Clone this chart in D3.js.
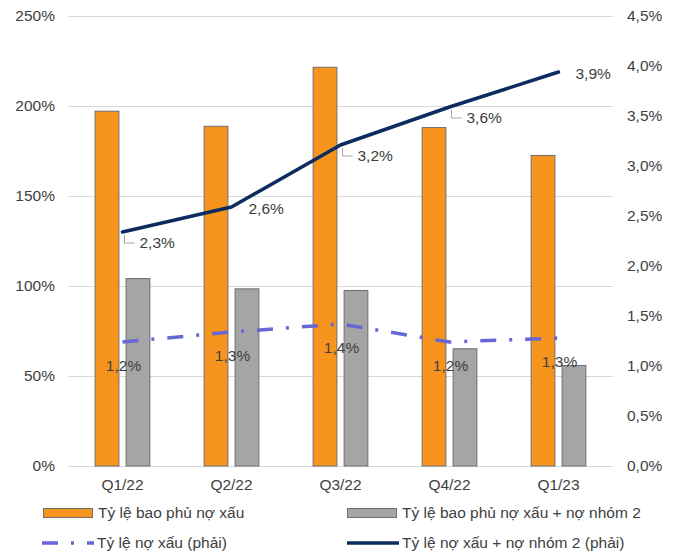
<!DOCTYPE html>
<html>
<head>
<meta charset="utf-8">
<script src="https://cdn.jsdelivr.net/npm/d3@7"></script>
<style>
  html, body { margin: 0; padding: 0; background: #fff; }
  svg { display: block; font-family: "Liberation Sans", Arial, sans-serif; }
</style>
</head>
<body>
<svg id="chart" width="678" height="556"></svg>
<script>
// ---- data ----
const categories = ["Q1/22", "Q2/22", "Q3/22", "Q4/22", "Q1/23"];
const coverageNPL = [1.974, 1.89, 2.218, 1.883, 1.728];          // Tỷ lệ bao phủ nợ xấu (left axis)
const coverageNPLGroup2 = [1.044, 0.987, 0.978, 0.654, 0.561];   // Tỷ lệ bao phủ nợ xấu + nợ nhóm 2 (left axis)
const nplRatio = [0.0124, 0.0134, 0.0142, 0.0124, 0.0128];       // Tỷ lệ nợ xấu (phải)
const nplGroup2Ratio = [0.0234, 0.0259, 0.0321, 0.0359, 0.0394]; // Tỷ lệ nợ xấu + nợ nhóm 2 (phải)
const leftTicks = [0, 0.5, 1, 1.5, 2, 2.5];
const rightTicks = [0, 0.005, 0.01, 0.015, 0.02, 0.025, 0.03, 0.035, 0.04, 0.045];
const seriesNames = ["Tỷ lệ bao phủ nợ xấu", "Tỷ lệ bao phủ nợ xấu + nợ nhóm 2",
                     "Tỷ lệ nợ xấu (phải)", "Tỷ lệ nợ xấu + nợ nhóm 2 (phải)"];

// ---- styles ----
const C_ORANGE = "#F7941D", C_GRAY = "#A5A5A5", C_BORDER = "#6E6E6E";
const C_DASH = "#6767D6", C_NAVY = "#0C2B5F", C_TEXT = "#404040", C_GRID = "#D9D9D9";
const FS = 15.5;

const svg = d3.select("#chart");
const pLeft = 68, pRight = 613, pTop = 16, pBottom = 466;

const x0 = d3.scaleBand().domain(categories).range([pLeft, pRight]).paddingInner(0).paddingOuter(0);
const x1 = d3.scaleBand().domain([0, 1]).range([0, x0.bandwidth()]).paddingInner(0.2).paddingOuter(0.86);
const yL = d3.scaleLinear().domain([0, 2.5]).range([pBottom, pTop]);
const yR = d3.scaleLinear().domain([0, 0.045]).range([pBottom, pTop]);

const pctL = d => d3.format(".0%")(d);
const pctR = d => d3.format(".1%")(d).replace(".", ",");

// gridlines + left axis
const gAxL = svg.append("g").attr("transform", `translate(${pLeft},0)`)
  .call(d3.axisLeft(yL).tickValues(leftTicks).tickFormat(pctL).tickSizeInner(-(pRight - pLeft)).tickSizeOuter(0).tickPadding(13));
gAxL.select(".domain").remove();
gAxL.selectAll(".tick line").attr("stroke", C_GRID).attr("stroke-width", 1);
gAxL.selectAll(".tick text").attr("fill", C_TEXT).attr("font-size", FS).attr("font-family", "Liberation Sans, Arial, sans-serif");

// right axis
const gAxR = svg.append("g").attr("transform", `translate(${pRight},0)`)
  .call(d3.axisRight(yR).tickValues(rightTicks).tickFormat(pctR).tickSize(0).tickPadding(14));
gAxR.select(".domain").remove();
gAxR.selectAll(".tick text").attr("fill", C_TEXT).attr("font-size", FS).attr("font-family", "Liberation Sans, Arial, sans-serif");

// bars
const barSeries = [coverageNPL, coverageNPLGroup2];
const barColors = [C_ORANGE, C_GRAY];
barSeries.forEach((vals, si) => {
  svg.append("g").selectAll("rect").data(vals).join("rect")
    .attr("x", (d, i) => x0(categories[i]) + x1(si) + 0.5)
    .attr("y", d => yL(d) + 0.5)
    .attr("width", x1.bandwidth() - 1)
    .attr("height", d => pBottom - yL(d) - 0.5)
    .attr("fill", barColors[si])
    .attr("stroke", C_BORDER)
    .attr("stroke-width", 1);
});

// category axis
const gAxB = svg.append("g").attr("transform", `translate(0,${pBottom})`)
  .call(d3.axisBottom(x0).tickSize(0).tickPadding(13));
gAxB.select(".domain").remove();
gAxB.selectAll(".tick text").attr("fill", C_TEXT).attr("font-size", FS).attr("font-family", "Liberation Sans, Arial, sans-serif");

const cx = i => x0(categories[i]) + x0.bandwidth() / 2;

// NPL dashed line
const lineNPL = d3.line().x((d, i) => cx(i)).y(d => yR(d));
svg.append("path").datum(nplRatio).attr("d", lineNPL)
  .attr("fill", "none").attr("stroke", C_DASH).attr("stroke-width", 3.5)
  .attr("stroke-dasharray", "16,13,3,13");

// NPL labels (centered below)
svg.append("g").selectAll("text").data(nplRatio).join("text")
  .attr("x", (d, i) => cx(i) + 1)
  .attr("y", d => yR(d) + 24)
  .attr("dy", "0.35em")
  .attr("text-anchor", "middle")
  .attr("fill", C_TEXT).attr("font-size", FS)
  .text(d => pctR(d));

// NPL + group2 line
const lineG2 = d3.line().x((d, i) => cx(i)).y(d => yR(d));
svg.append("path").datum(nplGroup2Ratio).attr("d", lineG2)
  .attr("fill", "none").attr("stroke", C_NAVY).attr("stroke-width", 3.5)
  .attr("stroke-linejoin", "round").attr("stroke-linecap", "round");

// labels with leader lines for some
const withLeader = [true, false, true, true, false];
const gL = svg.append("g");
nplGroup2Ratio.forEach((d, i) => {
  const px = cx(i), py = yR(d);
  if (withLeader[i]) {
    gL.append("path")
      .attr("d", `M${px + 2},${py + 3}V${py + 11}H${px + 12}`)
      .attr("fill", "none").attr("stroke", "#A6A6A6").attr("stroke-width", 1);
    gL.append("text").attr("x", px + 17).attr("y", py + 11).attr("dy", "0.35em")
      .attr("fill", C_TEXT).attr("font-size", FS).text(pctR(d));
  } else {
    gL.append("text").attr("x", px + 17).attr("y", py + 2).attr("dy", "0.35em")
      .attr("fill", C_TEXT).attr("font-size", FS).text(pctR(d));
  }
});

// legend
const legend = [
  { name: seriesNames[0], type: "rect", color: C_ORANGE, x: 43, y: 513 },
  { name: seriesNames[1], type: "rect", color: C_GRAY, x: 347, y: 513 },
  { name: seriesNames[2], type: "dash", color: C_DASH, x: 42, y: 543 },
  { name: seriesNames[3], type: "line", color: C_NAVY, x: 347, y: 543 }
];
const gLeg = svg.append("g");
legend.forEach(l => {
  if (l.type === "rect") {
    gLeg.append("rect").attr("x", l.x + 0.5).attr("y", l.y - 4.5).attr("width", 49).attr("height", 9)
      .attr("fill", l.color).attr("stroke", C_BORDER).attr("stroke-width", 1);
  } else {
    gLeg.append("line").attr("x1", l.x).attr("x2", l.x + 52).attr("y1", l.y).attr("y2", l.y)
      .attr("stroke", l.color).attr("stroke-width", 3.5)
      .attr("stroke-dasharray", l.type === "dash" ? "16,13,3,13" : null);
  }
  gLeg.append("text").attr("x", l.x + 55).attr("y", l.y).attr("dy", "0.35em")
    .attr("fill", C_TEXT).attr("font-size", FS).text(l.name);
});
</script>
</body>
</html>
